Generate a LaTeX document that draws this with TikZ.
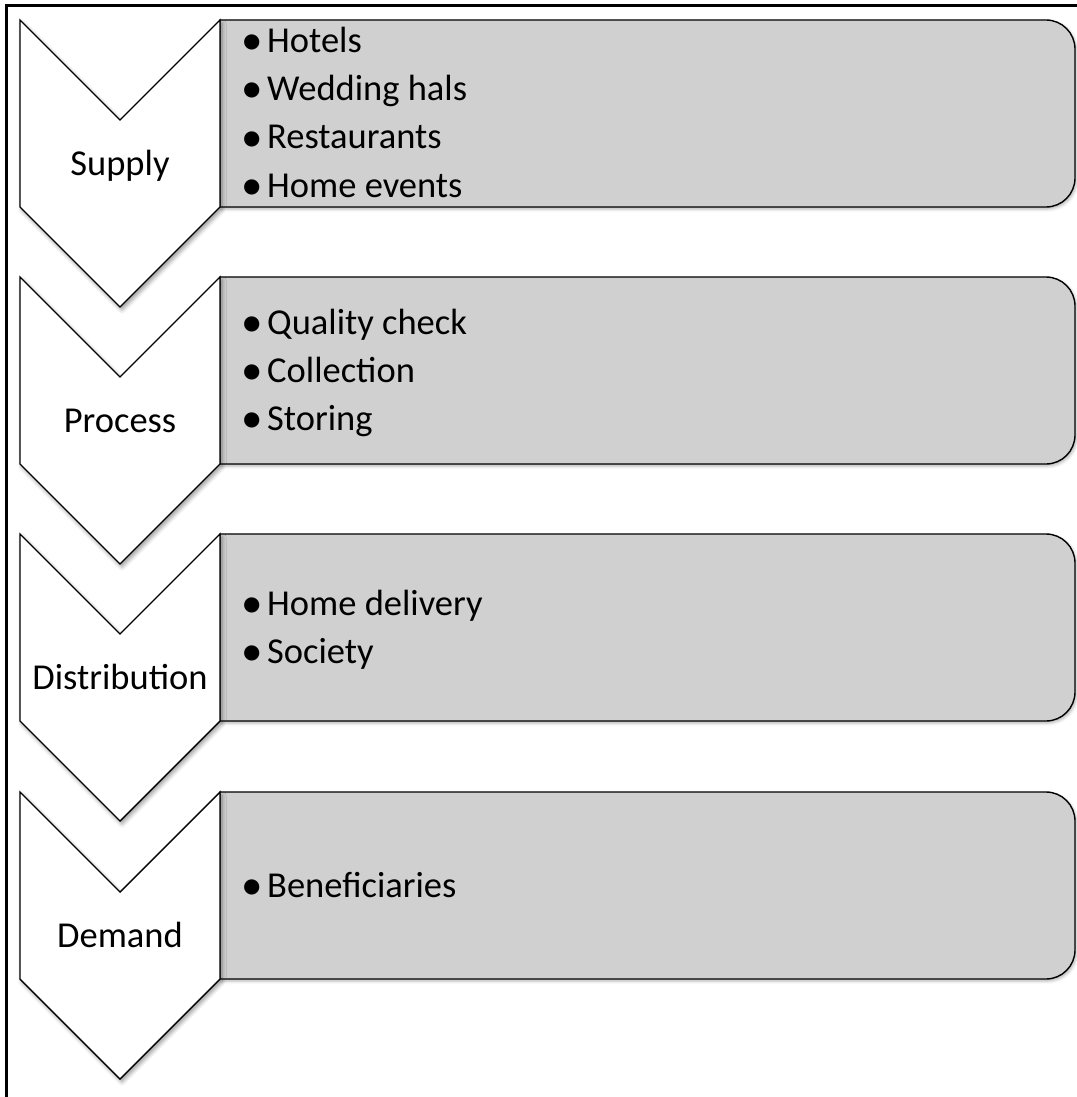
\documentclass[tikz,border=0pt]{standalone}
\usepackage{fontspec}
\setmainfont{Carlito}
\usetikzlibrary{shadows.blur}
\definecolor{panelgray}{RGB}{208,208,208}
\tikzset{
  x=1pt, y=1pt,
  chevronshape/.style={draw=black, line width=1.4pt, line join=miter, fill=white,
    blur shadow={shadow xshift=2pt, shadow yshift=-3pt, shadow blur radius=4pt, shadow opacity=40}},
  panelshape/.style={draw=black, line width=1.4pt, fill=panelgray,
    blur shadow={shadow xshift=1.5pt, shadow yshift=-2pt, shadow blur radius=3pt, shadow opacity=30}},
  stagelabel/.style={anchor=base, inner sep=0pt, font=\fontsize{36.5}{44}\selectfont},
  bulletmark/.style={anchor=base, inner sep=0pt, font=\fontsize{43}{50}\selectfont},
  itemtext/.style={anchor=base west, inner sep=0pt, font=\fontsize{36.5}{44}\selectfont},
}
\begin{document}
\begin{tikzpicture}
\useasboundingbox (0,0) rectangle (1076,-1097);
% outer frame (top and left edges)
\draw[line width=3pt] (6.5,-1100) -- (6.5,-5.7) -- (1080,-5.7);

% stages: top edge, label, item list
\foreach \i/\t/\lab/\items in {
  1/20/Supply/{Hotels,Wedding hals,Restaurants,Home events},
  2/277/Process/{Quality check,Collection,Storing},
  3/534/Distribution/{Home delivery,Society},
  4/792/Demand/{Beneficiaries}}{
  \pgfmathsetmacro{\ya}{-\t}
  \pgfmathsetmacro{\yn}{-\t-100}
  \pgfmathsetmacro{\yr}{-\t-158}
  \pgfmathsetmacro{\yb}{-\t-187}
  \pgfmathsetmacro{\yt}{-\t-287}
  % grey panel with rounded right corners
  \draw[panelshape] (220,\ya) -- (1046,\ya) arc[start angle=90, end angle=0, radius=29]
     -- (1075,\yr) arc[start angle=0, end angle=-90, radius=29] -- (220,\yb) -- cycle;
  % chevron
  \draw[chevronshape] (20,\ya) -- (120,\yn) -- (220,\ya) -- (220,\yb)
     -- (120,\yt) -- (20,\yb) -- cycle;
  \node[stagelabel] (stage\i) at (120,-\t-155) {\lab};
  % bulleted items, vertically centred in the panel
  \def\cnt{0}
  \foreach \it in \items {\global\edef\cnt{\the\numexpr\cnt+1\relax}}
  \foreach \it [count=\k] in \items {
    \pgfmathsetmacro{\yl}{-(\t+105+(\k-(\cnt+1)/2)*48)}
    \node[bulletmark] (dot\i-\k) at (252,\yl-2) {•};
    \node[itemtext] (item\i-\k) at (267,\yl) {\it};
  }
}
\end{tikzpicture}
\end{document}
